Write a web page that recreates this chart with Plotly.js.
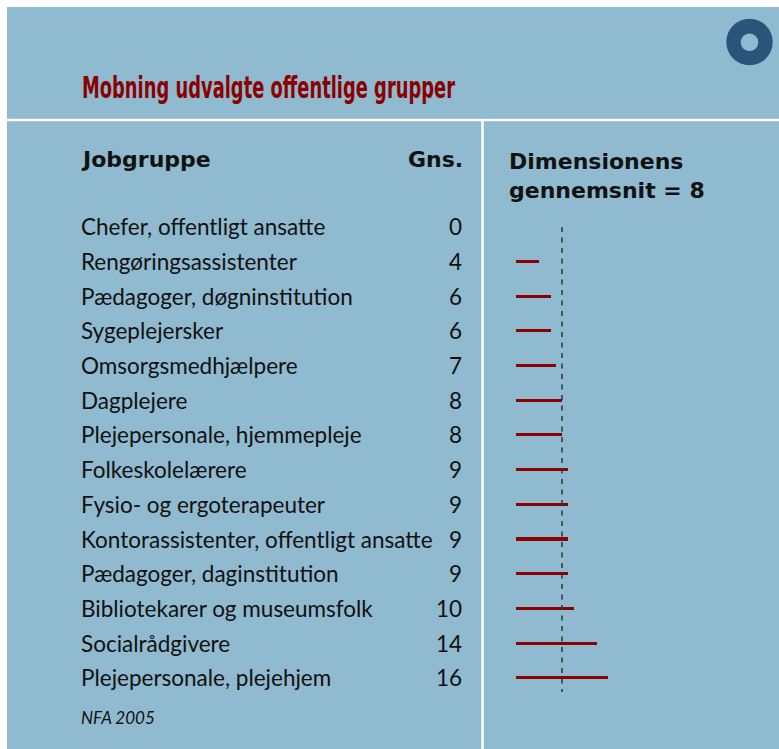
<!DOCTYPE html>
<html>
<head>
<meta charset="utf-8">
<script src="https://cdn.plot.ly/plotly-3.0.1.min.js"></script>
<style>html,body{margin:0;padding:0;background:#fff;}#chart{width:779px;height:749px;}</style>
</head>
<body>
<div id="chart"></div>
<script>
// ---- data ----
const chartTitle = "Mobning udvalgte offentlige grupper";
const jobGroups = [
  "Chefer, offentligt ansatte",
  "Rengøringsassistenter",
  "Pædagoger, døgninstitution",
  "Sygeplejersker",
  "Omsorgsmedhjælpere",
  "Dagplejere",
  "Plejepersonale, hjemmepleje",
  "Folkeskolelærere",
  "Fysio- og ergoterapeuter",
  "Kontorassistenter, offentligt ansatte",
  "Pædagoger, daginstitution",
  "Bibliotekarer og museumsfolk",
  "Socialrådgivere",
  "Plejepersonale, plejehjem"
];
const gnsValues = [0, 4, 6, 6, 7, 8, 8, 9, 9, 9, 9, 10, 14, 16];
const dimensionMean = 8;
const headerJob = "Jobgruppe";
const headerGns = "Gns.";
const headerDim = "Dimensionens<br>gennemsnit = 8";
const sourceNote = "NFA 2005";

// ---- layout helpers (pixels -> paper) ----
const W = 779, H = 749;
const px = v => v / W;
const py = v => 1 - v / H;

const BG = "rgb(143,186,207)";
const RED = "#8b0000";
const TXT = "#111111";
const bodyFont = {family: "Lato, 'Open Sans', sans-serif", size: 22.5, color: TXT};
const boldFont = {family: "'DejaVu Sans', sans-serif", size: 22, color: TXT, weight: "bold"};

const traces = [{
  type: "bar",
  orientation: "h",
  x: gnsValues,
  y: jobGroups,
  width: 0.09,
  marker: {color: RED, line: {width: 0}},
  hoverinfo: "skip"
}];

const annotations = [];
jobGroups.forEach((g, i) => {
  annotations.push({
    text: g, xref: "paper", yref: "y", x: px(79), y: g,
    xanchor: "left", yanchor: "middle", showarrow: false, font: bodyFont
  });
  annotations.push({
    text: String(gnsValues[i]), xref: "paper", yref: "y", x: px(464), y: g,
    xanchor: "right", yanchor: "middle", showarrow: false, font: bodyFont
  });
});
annotations.push({text: headerJob, xref: "paper", yref: "paper", x: px(79), y: py(159),
  xanchor: "left", yanchor: "middle", showarrow: false, font: boldFont});
annotations.push({text: headerGns, xref: "paper", yref: "paper", x: px(465), y: py(159),
  xanchor: "right", yanchor: "middle", showarrow: false, font: boldFont});
annotations.push({text: headerDim, xref: "paper", yref: "paper", x: px(507), y: py(176),
  xanchor: "left", yanchor: "middle", align: "left", showarrow: false, font: boldFont});
annotations.push({text: "<i>" + sourceNote + "</i>", xref: "paper", yref: "paper", x: px(79), y: py(717),
  xanchor: "left", yanchor: "middle", showarrow: false,
  font: {family: "Lato, 'Open Sans', sans-serif", size: 17, color: TXT}});

const shapes = [
  {type: "rect", xref: "paper", yref: "paper", x0: px(7), x1: 1, y0: 0, y1: py(7),
   fillcolor: BG, line: {width: 0}, layer: "below"},
  {type: "line", xref: "paper", yref: "paper", x0: px(7), x1: 1, y0: py(120), y1: py(120),
   line: {color: "#ffffff", width: 2.5}, layer: "below"},
  {type: "line", xref: "paper", yref: "paper", x0: px(482.5), x1: px(482.5), y0: py(120), y1: 0,
   line: {color: "#ffffff", width: 2.5}, layer: "below"},
  {type: "circle", xref: "paper", yref: "paper", x0: px(726.3), x1: px(772.7), y0: py(65.3), y1: py(18.7),
   fillcolor: "#2b547a", line: {width: 0}},
  {type: "circle", xref: "paper", yref: "paper", x0: px(740.7), x1: px(758.3), y0: py(51), y1: py(33.4),
   fillcolor: BG, line: {width: 0}},
  {type: "line", xref: "x", yref: "paper", x0: dimensionMean, x1: dimensionMean, y0: py(227), y1: py(692),
   line: {color: "#2a3540", width: 1.5, dash: "5px,5.5px"}}
];

const layout = {
  width: W, height: H,
  margin: {l: 0, r: 0, t: 0, b: 0, pad: 0},
  paper_bgcolor: "#ffffff",
  plot_bgcolor: "rgba(0,0,0,0)",
  showlegend: false,
  title: {
    text: chartTitle,
    xref: "paper", yref: "paper", x: px(82), xanchor: "left", y: py(87), yanchor: "middle",
    font: {family: "'DejaVu Sans', sans-serif", size: 30, color: RED, weight: "bold"}
  },
  xaxis: {visible: false, range: [-516 / 5.75, (W - 516) / 5.75], fixedrange: true},
  yaxis: {visible: false, type: "category", categoryorder: "array", categoryarray: jobGroups,
          range: [-226.7 / 34.7 + H / 34.7, -226.7 / 34.7], fixedrange: true},
  bargap: 0,
  annotations: annotations,
  shapes: shapes
};

Plotly.newPlot("chart", traces, layout, {displayModeBar: false, staticPlot: true}).then(gd => {
  const t = gd.querySelector("text.gtitle");
  if (t) {
    t.setAttribute("textLength", "373");
    t.setAttribute("lengthAdjust", "spacingAndGlyphs");
  }
});
</script>
</body>
</html>
